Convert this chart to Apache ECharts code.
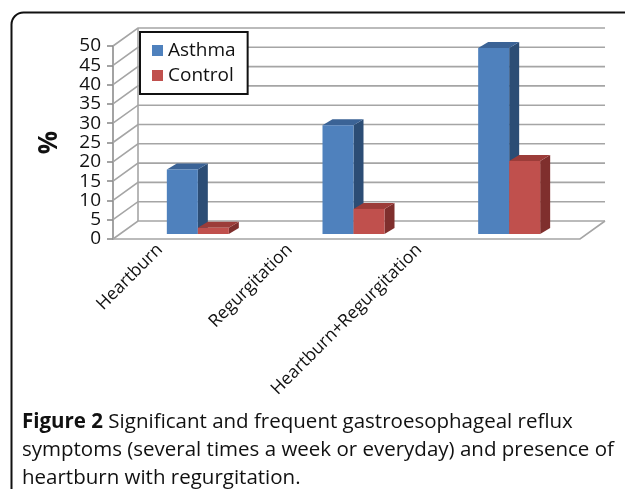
<!DOCTYPE html>
<html>
<head>
<meta charset="utf-8">
<script src="https://cdn.jsdelivr.net/npm/echarts@6/dist/echarts.min.js"></script>
<style>
  html, body { margin: 0; padding: 0; background: #fff; }
  #chart { width: 625px; height: 489px; }
</style>
</head>
<body>
<div id="chart"></div>
<script>
const categories = ['Heartburn', 'Regurgitation', 'Heartburn+Regurgitation'];
const asthma = [16.7, 28.2, 48.2];
const control = [1.6, 6.5, 18.9];
const yTicks = [0, 5, 10, 15, 20, 25, 30, 35, 40, 45, 50];

// depth of the 3d box (back wall offset) and of each column
const DX = 25, DY = -18;
const BAR_OFF = [7, -5];
const BAR_W = 31;
const BAR_D = [10, -6];

const myChart = echarts.init(document.getElementById('chart'));

// back wall + floor lines, one item per tick value
function renderWall(params, api) {
  const cs = params.coordSys;
  const v = api.value(0);
  const y = api.coord([0, v])[1];
  const x0 = cs.x, x1 = cs.x + cs.width;
  const style = { stroke: '#a5a5a5', lineWidth: 1.6, fill: null };
  const children = [{
    type: 'polyline',
    shape: { points: [[x0, y], [x0 + DX, y + DY], [x1 + DX, y + DY]] },
    style: style
  }];
  if (v === 0) {
    children.push({
      type: 'polyline',
      shape: { points: [[x0, y], [x1, y], [x1 + DX, y + DY]] },
      style: style
    });
  }
  if (v === 50) {
    const yb = api.coord([0, 0])[1];
    children.push({
      type: 'line',
      shape: { x1: x0 + DX, y1: y + DY, x2: x0 + DX, y2: yb + DY },
      style: style
    });
  }
  return { type: 'group', children: children };
}

function makeBar(side, front, dark, topC) {
  return function (params, api) {
    const idx = api.value(0);
    const top = api.coord([idx, api.value(1)]);
    const base = api.coord([idx, 0]);
    const xa = top[0] + BAR_OFF[0] + (side < 0 ? -BAR_W : 0);
    const xb = xa + BAR_W;
    const yt = top[1] + BAR_OFF[1];
    const yb = base[1] + BAR_OFF[1];
    const [dx, dy] = BAR_D;
    return {
      type: 'group',
      children: [
        { type: 'polygon', shape: { points: [[xb, yt], [xb + dx, yt + dy], [xb + dx, yb + dy], [xb, yb]] }, style: { fill: dark } },
        { type: 'polygon', shape: { points: [[xa, yt], [xa + dx, yt + dy], [xb + dx, yt + dy], [xb, yt]] }, style: { fill: topC } },
        { type: 'rect', shape: { x: xa, y: yt, width: BAR_W, height: yb - yt }, style: { fill: front } }
      ]
    };
  };
}

const option = {
  animation: false,
  textStyle: { fontFamily: 'Open Sans' },
  grid: [
    { left: 113, right: 45, top: 46, bottom: 250 },
    { left: 95, right: 141, top: 46, bottom: 250 }
  ],
  legend: {
    orient: 'vertical',
    left: 140,
    top: 32,
    width: 108,
    padding: [9, 12, 9, 12],
    itemWidth: 11,
    itemHeight: 11,
    itemGap: 6,
    backgroundColor: '#fff',
    borderColor: '#111',
    borderWidth: 2,
    textStyle: { fontSize: 19, color: '#111', fontFamily: 'Open Sans' },
    data: [
      { name: 'Asthma', icon: 'rect', itemStyle: { color: '#4f81bd' } },
      { name: 'Control', icon: 'rect', itemStyle: { color: '#c0504d' } }
    ],
    z: 10
  },
  xAxis: [
    {
      type: 'category', gridIndex: 0, data: categories,
      axisLine: { show: false }, axisTick: { show: false }, axisLabel: { show: false }
    },
    {
      type: 'category', gridIndex: 1, data: categories,
      axisLine: { show: false }, axisTick: { show: false },
      axisLabel: { rotate: 45, margin: 8, fontSize: 17.5, color: '#111', interval: 0 }
    }
  ],
  yAxis: [
    {
      type: 'value', gridIndex: 0, min: 0, max: 50, interval: 5,
      name: '%', nameLocation: 'middle', nameGap: 50, nameRotate: 90,
      nameTextStyle: { fontSize: 26, fontWeight: 'bold', color: '#111' },
      axisLine: { show: true, lineStyle: { color: '#8c8c8c', width: 1.6 } },
      axisTick: { show: true, length: 6, lineStyle: { color: '#8c8c8c', width: 1.6 } },
      axisLabel: { fontSize: 19, color: '#111', margin: 12 },
      splitLine: { show: false }
    },
    {
      type: 'value', gridIndex: 1, min: 0, max: 50, show: false
    }
  ],
  series: [
    {
      type: 'custom', name: 'wall', xAxisIndex: 0, yAxisIndex: 0,
      data: yTicks.map(v => [v]),
      renderItem: renderWall, silent: true, z: 1
    },
    {
      type: 'custom', name: 'Asthma', xAxisIndex: 0, yAxisIndex: 0,
      itemStyle: { color: '#4f81bd' },
      data: asthma.map((v, i) => [i, v]),
      renderItem: makeBar(-1, '#4f81bd', '#2c4d75', '#3b6396'), z: 2
    },
    {
      type: 'custom', name: 'Control', xAxisIndex: 0, yAxisIndex: 0,
      itemStyle: { color: '#c0504d' },
      data: control.map((v, i) => [i, v]),
      renderItem: makeBar(1, '#c0504d', '#7f2f2d', '#9c3c39'), z: 3
    }
  ],
  graphic: [
    {
      type: 'rect', left: 9, top: 10, z: -1,
      shape: { width: 700, height: 600, r: 12 },
      style: { fill: null, stroke: '#111', lineWidth: 2 }
    },
    {
      type: 'text', left: 22, top: 408,
      style: {
        text: '{b|Figure 2} Significant and frequent gastroesophageal reflux\nsymptoms (several times a week or everyday) and presence of\nheartburn with regurgitation.',
        fontSize: 20.5, fontFamily: 'Open Sans', fill: '#111', lineHeight: 28,
        rich: { b: { fontWeight: 'bold', fontSize: 20.5, fontFamily: 'Open Sans', fill: '#111' } }
      }
    }
  ]
};

myChart.setOption(option);
</script>
</body>
</html>
